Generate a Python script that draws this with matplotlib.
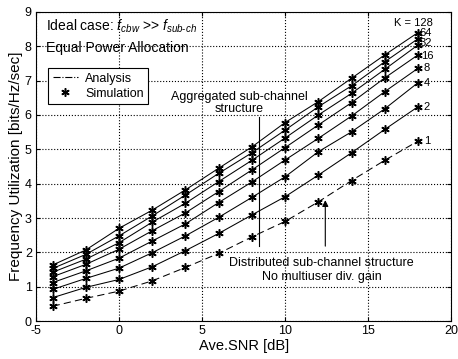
import matplotlib
matplotlib.use("Agg")
import matplotlib.pyplot as plt
from matplotlib.lines import Line2D

plt.rcParams['font.family'] = ['Liberation Sans', 'DejaVu Sans']
plt.rcParams['mathtext.fontset'] = 'custom'
plt.rcParams['mathtext.it'] = 'Liberation Sans:italic'
plt.rcParams['mathtext.rm'] = 'Liberation Sans'
plt.rcParams['axes.unicode_minus'] = False

snr = [-4, -2, 0, 2, 4, 6, 8, 10, 12, 14, 16, 18]
k_labels = ["128", "64", "32", "16", "8", "4", "2", "1"]
k128 = [1.63, 2.07, 2.70, 3.23, 3.82, 4.45, 5.07, 5.78, 6.39, 7.07, 7.75, 8.40]
k64 = [1.53, 1.94, 2.48, 3.06, 3.67, 4.30, 4.90, 5.56, 6.24, 6.85, 7.55, 8.22]
k32 = [1.42, 1.80, 2.28, 2.88, 3.43, 4.06, 4.68, 5.33, 6.00, 6.63, 7.33, 8.04]
k16 = [1.29, 1.65, 2.09, 2.63, 3.15, 3.77, 4.40, 5.05, 5.71, 6.36, 7.08, 7.75]
k8 = [1.12, 1.46, 1.83, 2.33, 2.83, 3.45, 4.05, 4.69, 5.32, 5.97, 6.68, 7.36]
k4 = [0.92, 1.24, 1.54, 1.99, 2.48, 3.02, 3.60, 4.20, 4.93, 5.51, 6.18, 6.94]
k2 = [0.68, 0.98, 1.21, 1.58, 2.05, 2.55, 3.09, 3.62, 4.25, 4.90, 5.58, 6.24]
k1 = [0.43, 0.66, 0.87, 1.17, 1.56, 1.97, 2.45, 2.90, 3.47, 4.09, 4.68, 5.24]
series = [k128, k64, k32, k16, k8, k4, k2, k1]
# label offsets in pixels relative to the last marker
label_offsets = [(-24, 10), (1, 6), (2, 2), (3, -1), (6, 0), (6, 0), (5, 0), (6, 0)]

AST = (6, 2, 0)

fig = plt.figure(figsize=(4.58, 3.59), dpi=100)
ax = fig.add_axes([0.0786, 0.1058, 0.9065, 0.8608])

for lab, ys, off in zip(k_labels, series, label_offsets):
    if lab == "1":
        ax.plot(snr, ys, color='black', lw=0.75, ls=(0, (7, 4)))
    else:
        ax.plot(snr, ys, color='black', lw=0.75, ls='-')
    ax.plot(snr, ys, ls='none', marker=AST, ms=6, color='black', mew=1.1)
    txt = ("K = " + lab) if lab == "128" else lab
    ax.annotate(txt, xy=(snr[-1], ys[-1]), xytext=off, textcoords='offset pixels',
                ha='left', va='center', fontsize=8)

ax.set_xlim(-5, 20)
ax.set_ylim(0, 9)
ax.set_xticks([-5, 0, 5, 10, 15, 20])
ax.set_yticks(range(0, 10))
ax.tick_params(direction='in', length=3, labelsize=9, top=True, right=True)
ax.tick_params(axis='x', pad=3)
ax.tick_params(axis='y', pad=3)
ax.grid(True, color='black', ls=':', lw=0.8)
for s in ax.spines.values():
    s.set_linewidth(0.8)

ax.set_xlabel("Ave.SNR [dB]", fontsize=10.5, labelpad=1)
ax.set_ylabel("Frequency Utilization [bits/Hz/sec]", fontsize=11, labelpad=1)

ax.text(-4.4, 8.57, r"Ideal case: $f_{cbw}$ >> $f_{sub\text{-}ch}$", fontsize=10, va='center', ha='left')
ax.text(-4.4, 7.94, "Equal Power Allocation", fontsize=10, va='center', ha='left')

ax.text(7.26, 6.52, "Aggregated sub-channel", fontsize=9, ha='center', va='center')
ax.text(7.26, 6.18, "structure", fontsize=9, ha='center', va='center')
ax.plot([8.42, 8.42], [2.18, 5.94], color='black', lw=0.8)

ax.annotate("", xy=(12.42, 3.6), xytext=(12.42, 2.1),
            arrowprops=dict(arrowstyle='-|>', color='black', lw=0.8, mutation_scale=9))
ax.text(12.2, 1.7, "Distributed sub-channel structure", fontsize=9, ha='center', va='center')
ax.text(12.2, 1.28, "No multiuser div. gain", fontsize=9, ha='center', va='center')

handles = [Line2D([0], [0], color='black', lw=0.8, ls='-.'),
           Line2D([0], [0], color='black', ls='none', marker=AST, ms=6, mew=1.1)]
leg = ax.legend(handles, ["Analysis", "Simulation"], loc='upper left',
                bbox_to_anchor=(0.015, 0.838), fontsize=9, frameon=True,
                fancybox=False, framealpha=1, edgecolor='black',
                handlelength=2.0, borderpad=0.35, labelspacing=0.25, handletextpad=0.6)
leg.get_frame().set_linewidth(0.8)

fig.savefig("out.png", dpi=100)
